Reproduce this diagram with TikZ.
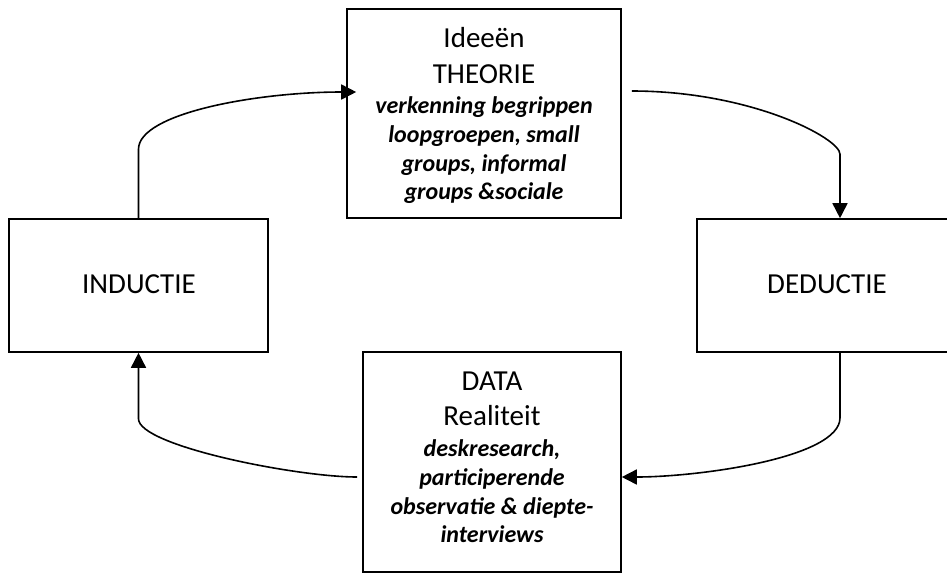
\documentclass[tikz,border=0pt]{standalone}
\usepackage{fontspec}
\setmainfont{Carlito}
\usetikzlibrary{arrows.meta,calc}

\tikzset{
  box/.style={draw=black, line width=1.6pt, rectangle, inner sep=0pt},
  head/.style={font=\fontsize{29}{35}\selectfont, anchor=base, inner sep=0pt},
  note/.style={font=\fontsize{24}{29}\selectfont\bfseries\itshape, anchor=base, inner sep=0pt},
  flow/.style={draw=black, line width=1.6pt, -{Triangle[length=15pt,width=15pt]}},
}

\begin{document}
\begin{tikzpicture}[x=1pt,y=-1pt]
\useasboundingbox (0,0) rectangle (947,574);
\clip (0,0) rectangle (947,574);

% the four stages of the cycle
\node[box, minimum width=274pt, minimum height=209pt] (theory) at (484,113.5) {};
\node[box, minimum width=259pt, minimum height=133pt] (induct) at (138.5,285.5) {};
\node[box, minimum width=260pt, minimum height=133pt] (deduct) at (827,285.5) {};
\node[box, minimum width=258pt, minimum height=220pt] (data) at (492,462) {};

% labels
\node[head] (induct-label) at (139,293.3) {INDUCTIE};
\node[head] (deduct-label) at (827,293.3) {DEDUCTIE};

\node[head] (th1) at (484,47.3) {Ideeën};
\node[head] (th2) at (484,83.5) {THEORIE};
\node[note] (th3) at (484,113) {verkenning begrippen};
\node[note] (th4) at (484,142) {loopgroepen, small};
\node[note] (th5) at (484,171) {groups, informal};
\node[note] (th6) at (484,199.5) {groups \&sociale};

\node[head] (da1) at (492,390) {DATA};
\node[head] (da2) at (492,425) {Realiteit};
\node[note] (da3) at (492,456) {deskresearch,};
\node[note] (da4) at (492,485.5) {participerende};
\node[note] (da5) at (492,514) {observatie \& diepte-};
\node[note] (da6) at (492,542) {interviews};

% curved connectors running clockwise
\draw[flow] (induct.north) -- ++(0,-69)
  .. controls +(0,-36) and +(-99,0) .. ($(theory.west)+(10,-21.5)$);
\draw[flow] ($(theory.east)+(10,-22.5)$)
  .. controls +(119,0) and +(0,-16) .. ($(deduct.north)+(13,-64)$)
  -- ($(deduct.north)+(13,0)$);
\draw[flow] ($(deduct.south)+(13,0)$) -- ++(0,65)
  .. controls +(0,40) and +(77,0) .. ($(data.east)+(0,15)$);
\draw[flow] ($(data.west)+(-5,15)$)
  .. controls +(-61,0) and +(0,27) .. ($(induct.south)+(0,66)$)
  -- (induct.south);
\end{tikzpicture}
\end{document}
